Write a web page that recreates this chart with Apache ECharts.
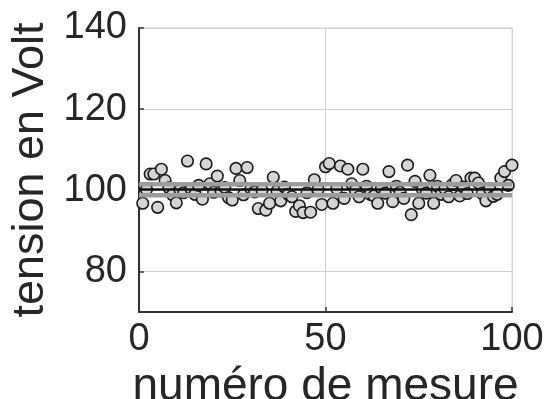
<!DOCTYPE html>
<html>
<head>
<meta charset="utf-8">
<script src="https://cdn.jsdelivr.net/npm/echarts@6/dist/echarts.min.js"></script>
<style>html,body{margin:0;padding:0;background:#fff}#c{width:549px;height:399px}</style>
</head>
<body>
<div id="c"></div>
<script>
// Measured voltages (index 1..100)
const measurements = [
  96.8,100.2,104.0,104.0,95.8,105.2,102.4,100.6,98.9,96.9,
  100.1,99.4,107.2,100.3,99.0,101.2,97.8,106.5,101.6,99.5,
  103.5,99.8,100.7,98.2,97.6,105.4,102.4,98.9,105.6,100.4,
  99.6,95.5,100.0,95.1,96.8,103.2,99.8,97.4,100.8,99.0,
  98.4,94.8,96.2,94.5,99.4,94.6,102.6,100.2,96.5,105.8,
  106.6,96.8,100.4,106.0,98.0,105.2,101.6,100.0,98.4,105.2,
  101.0,99.0,98.6,96.8,100.5,99.3,104.6,97.2,101.0,99.5,
  98.0,106.2,94.0,102.2,96.8,100.2,99.3,103.7,96.8,101.0,
  99.0,100.4,98.4,101.4,102.4,98.6,100.8,99.2,103.0,103.0,
  101.8,99.2,97.4,100.3,98.5,99.0,103.0,104.6,101.2,106.2
];
const meanValue = 100.2;
const bandValues = [101.5, 98.8];
const xTicks = [0, 50, 100];
const yTicks = [80, 100, 120, 140];
const xRange = [0, 100];
const yRange = [70, 140];

const scatterData = measurements.map((v, i) => [i + 1, v]);
const hLine = v => [[xRange[0], v], [xRange[1], v]];

const font = 'Liberation Sans, Arial, Helvetica, sans-serif';
const chart = echarts.init(document.getElementById('c'), null, {renderer: 'canvas'});
chart.setOption({
  animation: false,
  backgroundColor: '#ffffff',
  grid: {left: 139, right: 37, top: 28, bottom: 87, show: true, borderColor: '#d6d6d6', borderWidth: 1,
         containLabel: false, outerBoundsMode: 'none'},
  xAxis: {
    type: 'value', min: xRange[0], max: xRange[1], interval: 50,
    axisLine: {show: true, lineStyle: {color: '#333', width: 2}},
    axisTick: {show: true, inside: true, length: 5, lineStyle: {color: '#333', width: 1.5}},
    splitLine: {show: true, lineStyle: {color: '#d0d0d0', width: 1}},
    axisLabel: {fontSize: 38, color: '#262626', fontFamily: font, margin: 9, customValues: xTicks},
    name: 'numéro de mesure', nameLocation: 'middle', nameGap: 32,
    nameTextStyle: {fontSize: 46, color: '#262626', fontFamily: font}
  },
  yAxis: {
    type: 'value', min: yRange[0], max: yRange[1], interval: 10,
    axisLine: {show: true, lineStyle: {color: '#333', width: 2}},
    axisTick: {show: true, inside: true, length: 5, lineStyle: {color: '#333', width: 1.5}, customValues: yTicks},
    splitLine: {show: true, lineStyle: {color: '#d0d0d0', width: 1}},
    axisLabel: {fontSize: 38, color: '#262626', fontFamily: font, margin: 12, customValues: yTicks},
    name: 'tension en Volt', nameLocation: 'middle', nameGap: 86, nameRotate: 90,
    nameTextStyle: {fontSize: 45, color: '#262626', fontFamily: font}
  },
  series: [
    {
      type: 'scatter', data: scatterData, symbol: 'circle', symbolSize: 11.5, z: 2,
      itemStyle: {color: '#d3d6d6', borderColor: '#1a1a1a', borderWidth: 1.6, opacity: 1}
    },
    {type: 'line', data: hLine(bandValues[0]), symbol: 'none', z: 3, lineStyle: {color: '#9c9c9c', width: 4.5}},
    {type: 'line', data: hLine(bandValues[1]), symbol: 'none', z: 3, lineStyle: {color: '#9c9c9c', width: 4.5}},
    {type: 'line', data: hLine(meanValue), symbol: 'none', z: 4, lineStyle: {color: '#111', width: 2.5}}
  ]
});
</script>
</body>
</html>
